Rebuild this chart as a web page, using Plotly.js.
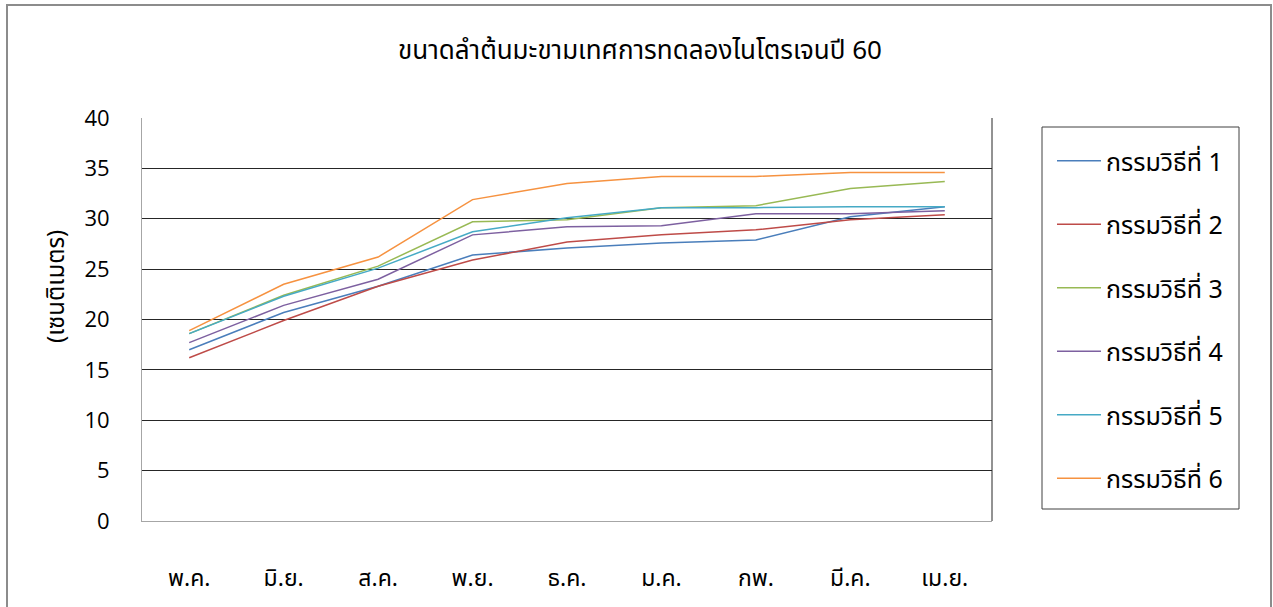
<!DOCTYPE html>
<html>
<head>
<meta charset="utf-8">
<script src="https://cdn.plot.ly/plotly-3.0.1.min.js"></script>
<style>
  html, body { margin: 0; padding: 0; background: #ffffff; }
  #chart { width: 1273px; height: 607px; }
</style>
</head>
<body>
<div id="chart"></div>
<script>
// Months of the trial (x categories)
const months = ['พ.ค.', 'มิ.ย.', 'ส.ค.', 'พ.ย.', 'ธ.ค.', 'ม.ค.', 'กพ.', 'มี.ค.', 'เม.ย.'];

// Trunk size per treatment (cm)
const treatment1 = [17.0, 20.7, 23.3, 26.4, 27.1, 27.6, 27.9, 30.2, 31.2];
const treatment2 = [16.2, 19.9, 23.3, 25.9, 27.7, 28.4, 28.9, 29.9, 30.4];
const treatment3 = [18.6, 22.4, 25.3, 29.7, 29.9, 31.1, 31.3, 33.0, 33.7];
const treatment4 = [17.7, 21.4, 24.0, 28.4, 29.2, 29.3, 30.5, 30.5, 30.8];
const treatment5 = [18.6, 22.3, 25.1, 28.7, 30.1, 31.1, 31.1, 31.2, 31.2];
const treatment6 = [18.9, 23.5, 26.2, 31.9, 33.5, 34.2, 34.2, 34.6, 34.6];

const seriesNames = ['กรรมวิธีที่ 1', 'กรรมวิธีที่ 2', 'กรรมวิธีที่ 3', 'กรรมวิธีที่ 4', 'กรรมวิธีที่ 5', 'กรรมวิธีที่ 6'];
const seriesValues = [treatment1, treatment2, treatment3, treatment4, treatment5, treatment6];
const seriesColors = ['#4A7EBB', '#BE4B48', '#98B954', '#7D60A0', '#46AAC5', '#F69240'];

const thaiFont = 'Tahoma, "Noto Sans Thai", "Noto Sans", sans-serif';

const traces = seriesValues.map((vals, i) => ({
  type: 'scatter',
  mode: 'lines',
  name: seriesNames[i],
  legendgroup: 'g' + i,
  x: months,
  y: vals,
  line: { color: seriesColors[i], width: 1.5 },
  hoverinfo: 'x+y+name'
}));

// Plot area spans x 142..992, y 118..521 in page pixels
const L = 142, R = 992, T = 118, B = 521;
const px = x => (x - L) / (R - L);
const py = y => (B - y) / (B - T);

const layout = {
  width: 1273,
  height: 607,
  margin: { l: L, r: 1273 - R, t: T, b: 607 - B, pad: 0 },
  paper_bgcolor: '#ffffff',
  plot_bgcolor: '#ffffff',
  showlegend: true,
  title: {
    text: 'ขนาดลำต้นมะขามเทศการทดลองไนโตรเจนปี 60',
    font: { family: thaiFont, size: 26, color: '#000000' },
    x: 640 / 1273,
    xanchor: 'center',
    xref: 'container',
    y: 1 - 50 / 607,
    yanchor: 'middle',
    yref: 'container'
  },
  xaxis: {
    type: 'category',
    range: [-0.5, 8.5],
    showgrid: false,
    zeroline: false,
    showline: true,
    linecolor: '#a6a6a6',
    linewidth: 1,
    ticks: '',
    ticklabelstandoff: 36,
    tickfont: { family: thaiFont, size: 23, color: '#000000' },
    fixedrange: true
  },
  yaxis: {
    range: [0, 40],
    dtick: 5,
    tick0: 0,
    showgrid: true,
    gridcolor: '#262626',
    gridwidth: 1,
    zeroline: false,
    showline: true,
    linecolor: '#a6a6a6',
    linewidth: 1,
    ticks: '',
    ticklabelstandoff: 27,
    tickfont: { family: '"Open Sans", "Noto Sans", sans-serif', size: 22, color: '#000000' },
    fixedrange: true
  },
  annotations: [
    // vertical axis caption (unit)
    { text: '(เซนติเมตร)', xref: 'paper', yref: 'paper',
      x: px(57), y: py(287), xanchor: 'center', yanchor: 'middle',
      textangle: -90, showarrow: false,
      font: { family: thaiFont, size: 24, color: '#000000' } }
  ],
  legend: {
    x: px(1052),
    xanchor: 'left',
    y: py(138),
    yanchor: 'top',
    bgcolor: 'rgba(0,0,0,0)',
    borderwidth: 0,
    traceorder: 'grouped',
    tracegroupgap: 28,
    itemwidth: 44,
    font: { family: thaiFont, size: 25, color: '#000000' }
  },
  shapes: [
    // right edge of plot area
    { type: 'line', xref: 'paper', yref: 'paper', x0: 1, x1: 1, y0: 0, y1: 1,
      line: { color: '#262626', width: 1 } },
    // legend box
    { type: 'rect', xref: 'paper', yref: 'paper',
      x0: px(1042), x1: px(1239), y0: py(509), y1: py(127),
      line: { color: '#404040', width: 1 } },
    // outer chart frame
    { type: 'path', xref: 'paper', yref: 'paper',
      path: 'M ' + px(7) + ' ' + py(620) + ' L ' + px(7) + ' ' + py(5) +
            ' L ' + px(1271) + ' ' + py(5) + ' L ' + px(1271) + ' ' + py(620),
      line: { color: '#8c8c8c', width: 2 } }
  ]
};

Plotly.newPlot('chart', traces, layout, { displayModeBar: false, responsive: false });
</script>
</body>
</html>
